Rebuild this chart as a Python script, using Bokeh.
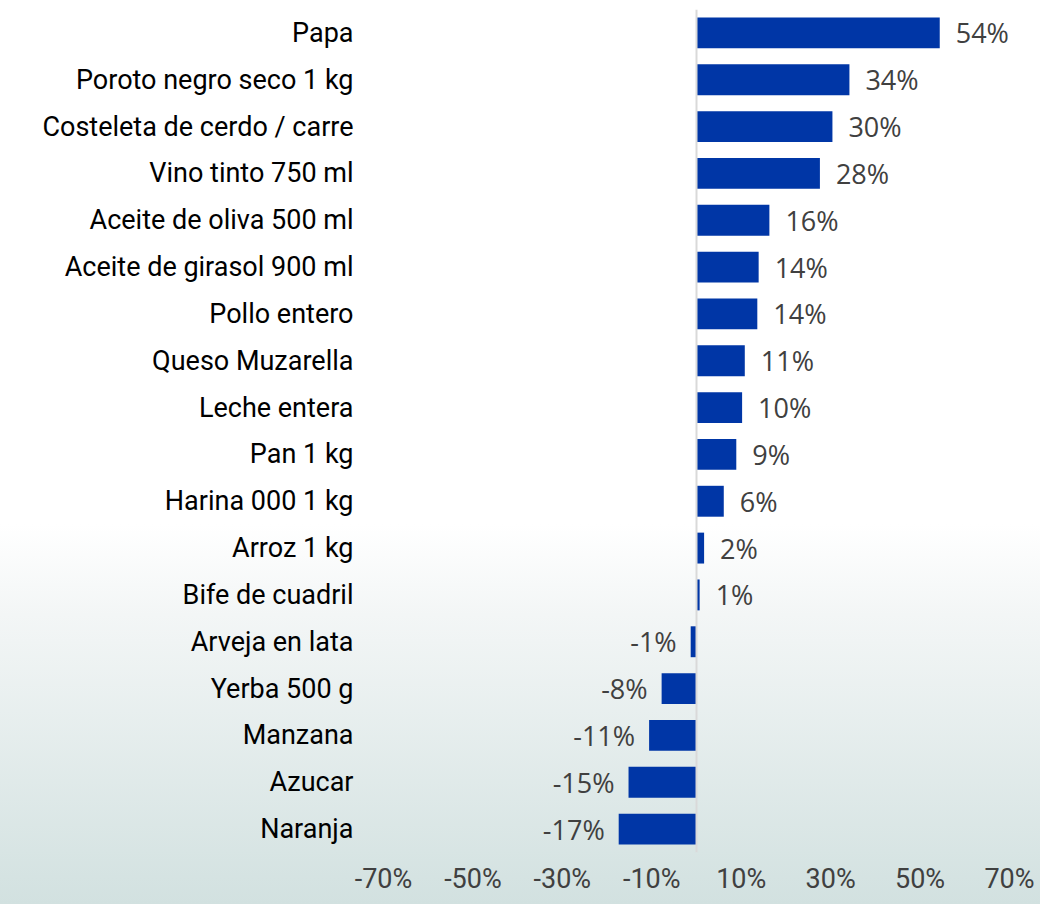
from bokeh.plotting import figure
from bokeh.models import (ColumnDataSource, FactorRange, Range1d, FixedTicker,
                          Span, InlineStyleSheet)
from bokeh.core.properties import value
from bokeh.embed import file_html
from bokeh.resources import INLINE

categories = ["Papa", "Poroto negro seco 1 kg", "Costeleta de cerdo / carre",
              "Vino tinto 750 ml", "Aceite de oliva 500 ml", "Aceite de girasol 900 ml",
              "Pollo entero", "Queso Muzarella", "Leche entera", "Pan 1 kg",
              "Harina 000 1 kg", "Arroz 1 kg", "Bife de cuadril", "Arveja en lata",
              "Yerba 500 g", "Manzana", "Azucar", "Naranja"]
changes = [54.4, 34.2, 30.4, 27.6, 16.3, 13.9, 13.6, 10.8, 10.2, 8.9, 6.1, 1.7,
           0.7, -1.3, -7.8, -10.6, -15.2, -17.4]
tick_values = [-70, -50, -30, -10, 10, 30, 50, 70]
tick_labels = ["-70%", "-50%", "-30%", "-10%", "10%", "30%", "50%", "70%"]

labels = [f"{round(v)}%" for v in changes]

pos = [i for i, v in enumerate(changes) if v >= 0]
neg = [i for i, v in enumerate(changes) if v < 0]

src = ColumnDataSource(dict(cat=categories, val=changes, lab=labels))
src_pos = ColumnDataSource(dict(cat=[categories[i] for i in pos],
                                val=[changes[i] for i in pos],
                                lab=[labels[i] for i in pos]))
src_neg = ColumnDataSource(dict(cat=[categories[i] for i in neg],
                                val=[changes[i] for i in neg],
                                lab=[labels[i] for i in neg]))

p = figure(width=1040, height=904, output_backend="svg", toolbar_location=None,
           y_range=FactorRange(*reversed(categories)), x_range=Range1d(-70, 70),
           min_border_left=383, min_border_right=31, min_border_top=9,
           min_border_bottom=52, outline_line_color=None,
           background_fill_color=None, border_fill_color=None)

p.stylesheets = [InlineStyleSheet(css=":host { background: linear-gradient(to bottom, #ffffff 0%, #ffffff 58%, #f3f6f6 68%, #d2e1e0 100%); }")]

p.hbar(y="cat", right="val", left=0, height=0.66, source=src,
       fill_color="#0036A6", line_color=None)

p.add_layout(Span(location=0, dimension="height", line_color="#d9d9d9", line_width=2))

p.text(x="val", y="cat", text="lab", source=src_pos, x_offset=16,
       text_align="left", text_baseline="middle", text_color="#404040",
       text_font=value("Open Sans"), text_font_size="27px")
p.text(x="val", y="cat", text="lab", source=src_neg, x_offset=-14,
       text_align="right", text_baseline="middle", text_color="#404040",
       text_font=value("Open Sans"), text_font_size="27px")

p.xgrid.grid_line_color = None
p.ygrid.grid_line_color = None

p.xaxis.ticker = FixedTicker(ticks=tick_values)
p.xaxis.major_label_overrides = {t: l for t, l in zip(tick_values, tick_labels)}
p.xaxis.axis_line_color = None
p.xaxis.major_tick_line_color = None
p.xaxis.minor_tick_line_color = None
p.xaxis.major_tick_in = 0
p.xaxis.major_tick_out = 0
p.xaxis.major_label_standoff = 10
p.xaxis.major_label_text_font = "Roboto"
p.xaxis.major_label_text_font_size = "27px"
p.xaxis.major_label_text_color = "#404040"

p.yaxis.axis_line_color = None
p.yaxis.major_tick_line_color = None
p.yaxis.minor_tick_line_color = None
p.yaxis.major_label_standoff = 24
p.yaxis.major_label_text_font = "Roboto"
p.yaxis.major_label_text_font_size = "27px"
p.yaxis.major_label_text_color = "#000000"

open("out.html", "w").write(file_html(p, INLINE))
